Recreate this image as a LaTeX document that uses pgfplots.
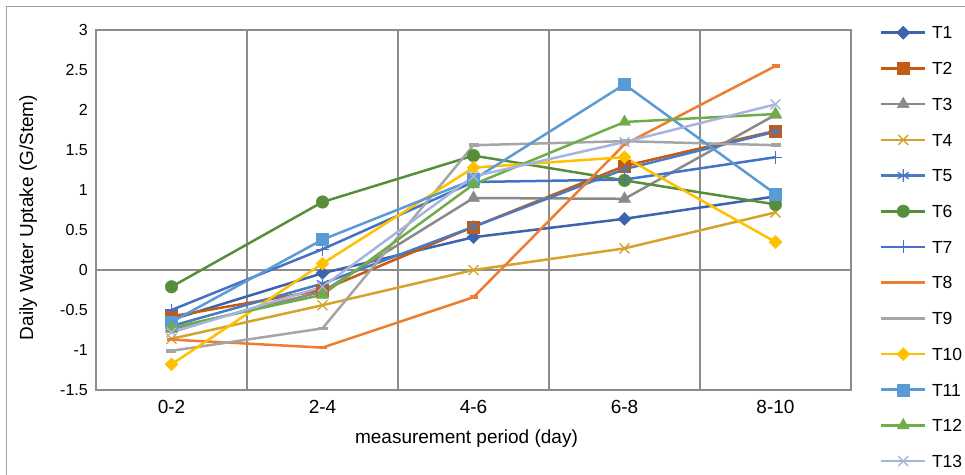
\documentclass[border=0pt]{standalone}
\usepackage{fontspec}
\setmainfont{Liberation Sans}
\usepackage{pgfplots}
\pgfplotsset{compat=1.18}
\usepackage{pgfplotstable}

\definecolor{cA}{HTML}{3C63AE}
\definecolor{cB}{HTML}{C55A11}
\definecolor{cC}{HTML}{8A8A8A}
\definecolor{cD}{HTML}{D4A32B}
\definecolor{cE}{HTML}{4B7BBE}
\definecolor{cF}{HTML}{578E3B}
\definecolor{cG}{HTML}{4472C4}
\definecolor{cH}{HTML}{ED7D31}
\definecolor{cI}{HTML}{A5A5A5}
\definecolor{cJ}{HTML}{FFC000}
\definecolor{cK}{HTML}{5B9BD5}
\definecolor{cL}{HTML}{70AD47}
\definecolor{cM}{HTML}{A6B4DE}
\definecolor{gridgray}{HTML}{8C8C8C}
\definecolor{framegray}{HTML}{A0A0A0}

\pgfplotstableread{
x  T1    T2    T3    T4    T5    T6    T7    T8    T9    T10   T11   T12   T13
0 -0.62 -0.58 -0.74 -0.86 -0.70 -0.21 -0.50 -0.87 -1.01 -1.18 -0.65 -0.72 -0.78
1 -0.04 -0.25 -0.27 -0.44 -0.17  0.85  0.26 -0.97 -0.73  0.08  0.38 -0.31 -0.21
2  0.41  0.54  0.90  0.00  0.54  1.43  1.10 -0.34  1.56  1.28  1.13  1.07  1.17
3  0.64  1.30  0.89  0.27  1.26  1.12  1.13  1.57  1.61  1.41  2.32  1.85  1.60
4  0.92  1.74  1.94  0.72  1.73  0.82  1.41  2.55  1.56  0.35  0.95  1.95  2.07
}\data

\begin{document}
\begin{tikzpicture}
\path[use as bounding box] (-96bp,-85bp) rectangle (869bp,390bp);
\draw[framegray, line width=1bp] (-89bp,-100bp) -- (-89bp,383bp) -- (880bp,383bp);
\begin{axis}[
  scale only axis, width=755bp, height=360bp,
  xmin=-0.5, xmax=4.5, ymin=-1.5, ymax=3,
  xtick={0,1,2,3,4}, xticklabels={0-2,2-4,4-6,6-8,8-10},
  minor xtick={0.5,1.5,2.5,3.5},
  xminorgrids=true,
  minor grid style={draw=gridgray, line width=1.5bp},
  major grid style={draw=gridgray, line width=1.5bp},
  ytick={-1.5,-1,-0.5,0,0.5,1,1.5,2,2.5,3},
  yticklabels={-1.5,-1,-0.5,0,0.5,1,1.5,2,2.5,3},
  extra y ticks={0}, extra y tick labels={},
  extra y tick style={grid=major},
  major tick length=0pt, minor tick length=0pt,
  x axis line style={draw=none},
  y axis line style={draw=gridgray, line width=1.5bp},
  xticklabel style={font=\fontsize{19bp}{22bp}\selectfont, anchor=north, inner sep=0pt, yshift=-10bp},
  yticklabel style={font=\fontsize{16bp}{19bp}\selectfont, anchor=east, inner sep=0pt, xshift=-8bp},
  xlabel={measurement period (day)},
  xlabel style={font=\fontsize{19bp}{22bp}\selectfont, at={(axis description cs:0.5,0)}, anchor=base, inner sep=0pt, yshift=-53bp, xshift=-7bp},
  ylabel={Daily Water Uptake (G/Stem)},
  ylabel style={font=\fontsize{19bp}{22bp}\selectfont, at={(axis description cs:-0.0834,0.479)}, anchor=base, inner sep=0pt},
  legend cell align=left,
  legend style={at={(1.0384,1.0139)}, anchor=north west, draw=none, fill=none,
    inner sep=0pt, outer sep=0pt, row sep=20.2bp, column sep=4bp,
    font=\fontsize{17.5bp}{20bp}\selectfont,
    nodes={inner sep=1.5bp, text height=12.5bp, text depth=0bp}},
  legend image code/.code={\draw[mark repeat=2,mark phase=2] plot coordinates {(0bp,0bp) (22bp,0bp) (44bp,0bp)};},
  every axis plot/.append style={line width=2.5bp},
  clip=false,
]
\addplot[cA, mark=square*, mark size=4.6bp, mark options={solid, rotate=45, line width=0.4bp}] table[x=x,y=T1]{\data};
\addlegendentry{T1}
\addplot[cB, mark=square*, mark size=6bp, mark options={solid, line width=0.4bp}] table[x=x,y=T2]{\data};
\addlegendentry{T2}
\addplot[cC, mark=triangle*, mark size=7bp, mark options={solid, line width=0.4bp}] table[x=x,y=T3]{\data};
\addlegendentry{T3}
\addplot[cD, mark=x, mark size=7bp, mark options={solid, line width=1.3bp}] table[x=x,y=T4]{\data};
\addlegendentry{T4}
\addplot[cE, mark=asterisk, mark size=6.5bp, mark options={solid, line width=1.3bp}] table[x=x,y=T5]{\data};
\addlegendentry{T5}
\addplot[cF, mark=*, mark size=6.3bp, mark options={solid, line width=0.4bp}] table[x=x,y=T6]{\data};
\addlegendentry{T6}
\addplot[cG, mark=+, mark size=6.5bp, mark options={solid, line width=1.3bp}] table[x=x,y=T7]{\data};
\addlegendentry{T7}
\addplot[cH, mark=-, mark size=4bp, mark options={solid, line width=3.5bp}] table[x=x,y=T8]{\data};
\addlegendentry{T8}
\addplot[cI, mark=-, mark size=5bp, mark options={solid, line width=3.5bp}] table[x=x,y=T9]{\data};
\addlegendentry{T9}
\addplot[cJ, mark=square*, mark size=4.6bp, mark options={solid, rotate=45, line width=0.4bp}] table[x=x,y=T10]{\data};
\addlegendentry{T10}
\addplot[cK, mark=square*, mark size=6bp, mark options={solid, line width=0.4bp}] table[x=x,y=T11]{\data};
\addlegendentry{T11}
\addplot[cL, mark=triangle*, mark size=7bp, mark options={solid, line width=0.4bp}] table[x=x,y=T12]{\data};
\addlegendentry{T12}
\addplot[cM, mark=x, mark size=7bp, mark options={solid, line width=1.3bp}] table[x=x,y=T13]{\data};
\addlegendentry{T13}
\end{axis}
\end{tikzpicture}
\end{document}
